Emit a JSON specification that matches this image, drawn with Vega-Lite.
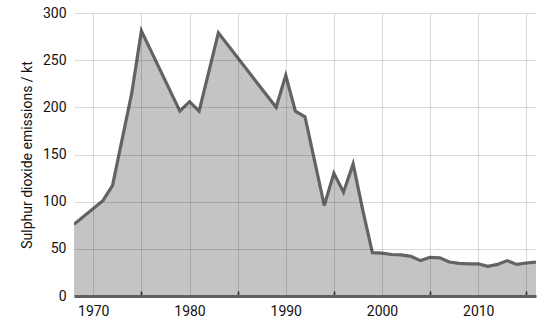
{
  "$schema": "https://vega.github.io/schema/vega-lite/v6.json",
  "width": 462,
  "height": 283,
  "autosize": {"type": "none"},
  "padding": {"left": 74, "top": 13, "right": 14, "bottom": 34},
  "background": "white",
  "config": {
    "font": "Roboto",
    "view": {"stroke": null}
  },
  "data": {
    "values": [
      {"year": 1968, "so2": 76},
      {"year": 1971, "so2": 101},
      {"year": 1972, "so2": 117},
      {"year": 1974, "so2": 215},
      {"year": 1975, "so2": 281},
      {"year": 1979, "so2": 196},
      {"year": 1980, "so2": 206},
      {"year": 1981, "so2": 196},
      {"year": 1983, "so2": 279},
      {"year": 1989, "so2": 200},
      {"year": 1990, "so2": 234},
      {"year": 1991, "so2": 196},
      {"year": 1992, "so2": 190},
      {"year": 1994, "so2": 96},
      {"year": 1995, "so2": 130},
      {"year": 1996, "so2": 110},
      {"year": 1997, "so2": 140},
      {"year": 1998, "so2": 91},
      {"year": 1999, "so2": 46},
      {"year": 2000, "so2": 45.5},
      {"year": 2001, "so2": 44},
      {"year": 2002, "so2": 43.5},
      {"year": 2003, "so2": 42},
      {"year": 2004, "so2": 37.5},
      {"year": 2005, "so2": 41},
      {"year": 2006, "so2": 40.5},
      {"year": 2007, "so2": 36},
      {"year": 2008, "so2": 34.5},
      {"year": 2009, "so2": 34},
      {"year": 2010, "so2": 34},
      {"year": 2011, "so2": 31.5},
      {"year": 2012, "so2": 33.5},
      {"year": 2013, "so2": 37.5},
      {"year": 2014, "so2": 33.5},
      {"year": 2015, "so2": 35},
      {"year": 2016, "so2": 36}
    ]
  },
  "mark": {
    "type": "area",
    "color": "#c5c4c5",
    "opacity": 1,
    "line": {"color": "#636363", "strokeWidth": 3.2, "strokeJoin": "miter"},
    "clip": true
  },
  "encoding": {
    "x": {
      "field": "year",
      "type": "quantitative",
      "scale": {"domain": [1968, 2016], "nice": false, "zero": false},
      "axis": {
        "title": null,
        "values": [1970, 1975, 1980, 1985, 1990, 1995, 2000, 2005, 2010, 2015],
        "labelExpr": "datum.value % 10 == 0 ? datum.value : ''",
        "labelFontSize": 14,
        "labelColor": "#111111",
        "labelPadding": 13,
        "labelFlush": false,
        "tickSize": -5,
        "tickWidth": 1.5,
        "tickColor": {"condition": {"test": "datum.value % 10 == 0", "value": "rgba(0,0,0,0)"}, "value": "#222222"},
        "domainColor": "#606060",
        "domainWidth": 3,
        "grid": true,
        "gridColor": "#000000",
        "gridOpacity": 0.15,
        "zindex": 1
      }
    },
    "y": {
      "field": "so2",
      "type": "quantitative",
      "scale": {"domain": [0, 300], "nice": false},
      "axis": {
        "title": "Sulphur dioxide emissions / kt",
        "titleFontSize": 14,
        "titleFontWeight": "normal",
        "titleColor": "#111111",
        "titlePadding": 8,
        "values": [0, 50, 100, 150, 200, 250, 300],
        "labelFontSize": 14,
        "labelColor": "#111111",
        "labelPadding": 8,
        "ticks": false,
        "domain": false,
        "grid": true,
        "gridColor": "#000000",
        "gridOpacity": 0.15,
        "zindex": 1
      }
    }
  }
}
